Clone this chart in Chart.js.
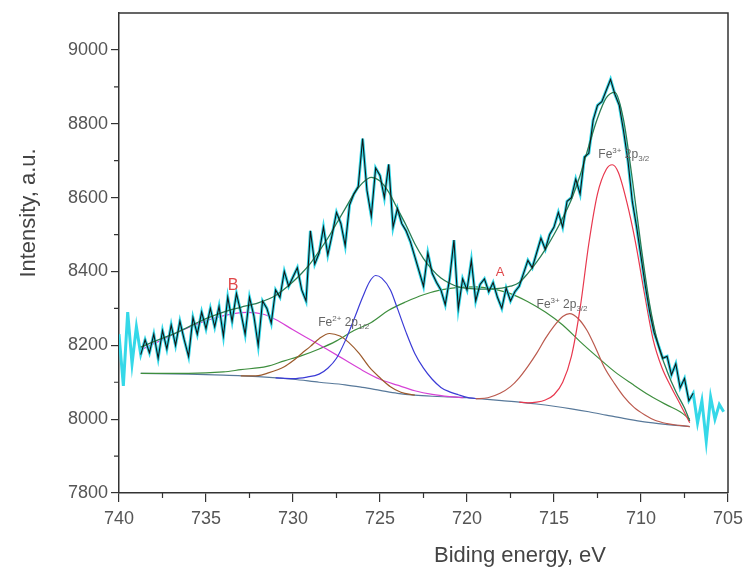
<!DOCTYPE html>
<html>
<head>
<meta charset="utf-8">
<script src="https://cdn.jsdelivr.net/npm/chart.js@4.4.1/dist/chart.umd.min.js"></script>
<style>
  html, body { margin: 0; padding: 0; background: #fff; }
</style>
</head>
<body>
<canvas id="xpsChart" width="743" height="567"></canvas>
<script>
// Fe 2p spectrum, binding energy (eV) on a 0.25 eV grid
const specE = [
  740.00,739.75,739.50,739.25,739.00,738.75,738.50,738.25,
  738.00,737.75,737.50,737.25,737.00,736.75,736.50,736.25,
  736.00,735.75,735.50,735.25,735.00,734.75,734.50,734.25,
  734.00,733.75,733.50,733.25,733.00,732.75,732.50,732.25,
  732.00,731.75,731.50,731.25,731.00,730.75,730.50,730.25,
  730.00,729.75,729.50,729.25,729.00,728.75,728.50,728.25,
  728.00,727.75,727.50,727.25,727.00,726.75,726.50,726.25,
  726.00,725.75,725.50,725.25,725.00,724.75,724.50,724.25,
  724.00,723.75,723.50,723.25,723.00,722.75,722.50,722.25,
  722.00,721.75,721.50,721.25,721.00,720.75,720.50,720.25,
  720.00,719.75,719.50,719.25,719.00,718.75,718.50,718.25,
  718.00,717.75,717.50,717.25,717.00,716.75,716.50,716.25,
  716.00,715.75,715.50,715.25,715.00,714.75,714.50,714.25,
  714.00,713.75,713.50,713.25,713.00,712.75,712.50,712.25,
  712.00,711.75,711.50,711.25,711.00,710.75,710.50,710.25,
  710.00,709.75,709.50,709.25,709.00,708.75,708.50,708.25,
  708.00,707.75,707.50,707.25,707.00,706.75,706.50,706.25,
  706.00,705.75,705.50,705.25
];

// measured intensity (a.u.)
const specI = [
  8230,8090,8290,8150,8250,8175,8215,8180,
  8230,8165,8240,8190,8255,8200,8265,8215,
  8170,8275,8230,8290,8245,8300,8250,8305,
  8225,8330,8265,8340,8290,8230,8330,8280,
  8200,8320,8300,8260,8350,8330,8400,8360,
  8385,8410,8350,8320,8510,8420,8450,8520,
  8445,8500,8560,8530,8470,8580,8610,8630,
  8760,8620,8550,8680,8660,8600,8690,8520,
  8570,8530,8510,8480,8440,8400,8360,8450,
  8395,8370,8350,8310,8380,8485,8300,8380,
  8350,8430,8320,8365,8380,8345,8370,8330,
  8300,8355,8320,8345,8360,8395,8430,8410,
  8450,8490,8460,8500,8520,8560,8520,8590,
  8600,8650,8610,8710,8720,8810,8850,8860,
  8890,8920,8880,8850,8780,8700,8590,8520,
  8440,8360,8290,8235,8200,8165,8170,8120,
  8150,8085,8110,8050,8070,7990,8050,7940,
  8060,8000,8040,8020
];

// fitted region of the spectrum (index range in specE)
const fitStart = 5;
const fitEnd = 133;

// fit components, [energy, intensity]
const envelope = [
  [738.75,8195],[738,8210],[737,8228],[736,8250],[735,8272],[734,8290],[733,8303],
  [732,8315],[731,8335],[730,8372],[729.5,8395],[729,8422],[728.5,8455],[728,8490],
  [727.5,8530],[727,8570],[726.5,8610],[726,8640],[725.5,8655],[725,8645],[724.5,8615],
  [724,8570],[723.5,8525],[723,8475],[722.5,8435],[722,8405],[721.5,8382],[721,8368],
  [720.5,8358],[720,8354],[719,8352],[718,8355],[717.5,8360],[717,8370],[716.5,8395],
  [716,8425],[715.5,8460],[715,8500],[714.5,8545],[714,8595],[713.5,8660],[713,8740],
  [712.5,8815],[712,8870],[711.5,8885],[711,8810],[710.5,8650],[710,8470],[709.5,8310],
  [709,8200],[708.5,8130],[708,8075],[707.5,8030],[707.2,7995]
];

const shirleyBg = [
  [738.75,8124],[736,8122],[734,8119],[732,8115],[730,8108],[728.5,8100],[727,8093],
  [726,8086],[725,8078],[724,8070],[723,8065],[722,8062],[721,8060],[720,8058],
  [719,8054],[718,8050],[717,8046],[716,8041],[715,8035],[714,8028],[713,8020],
  [712,8011],[711,8002],[710,7994],[709,7988],[708,7983],[707.2,7980]
];

const satA = [
  [738.75,8124],[736,8124],[734,8128],[733,8134],[731.5,8143],[730.5,8158],[729.5,8172],
  [728.5,8190],[727.5,8212],[726.5,8240],[725.5,8262],[724.5,8295],[723.5,8318],
  [722.5,8337],[721.5,8350],[720.5,8357],[719.5,8358],[718.5,8352],[717.5,8340],
  [716.5,8318],[715.5,8290],[714.5,8255],[713.5,8210],[712.5,8168],[711.5,8128],
  [710.5,8095],[709.5,8064],[708.5,8038],[707.75,8020],[707.2,8000]
];

const satB = [
  [738.75,8188],[737.5,8215],[736.5,8238],[735.5,8258],[734.5,8274],[733.5,8285],
  [732.6,8289],[731.7,8284],[731,8270],[730,8242],[729,8215],[728,8188],[727,8160],
  [726,8132],[725,8108],[724,8092],[723,8077],[722,8067],[721,8061],[720.2,8058]
];

const fe2p12Small = [
  [733,8117],[732,8118],[731.5,8124],[730.5,8142],[730,8158],[729.5,8178],[729,8197],
  [728.5,8218],[727.9,8232],[727.3,8225],[726.8,8208],[726.2,8178],[725.6,8140],
  [725,8112],[724.4,8088],[723.8,8073],[723,8065]
];

const fe2p12Main = [
  [731,8112],[730,8110],[729.2,8114],[728.5,8122],[728,8138],[727.5,8165],[727,8212],
  [726.5,8270],[726,8330],[725.6,8372],[725.25,8389],[724.9,8382],[724.4,8350],
  [724,8300],[723.5,8235],[723,8178],[722.5,8138],[722,8108],[721.5,8086],[721,8074],
  [720.5,8066],[720,8059],[719.5,8056]
];

const fe2p32Small = [
  [719.5,8055],[718.8,8058],[718.1,8070],[717.5,8088],[717,8112],[716.5,8143],
  [716,8178],[715.5,8218],[715,8252],[714.5,8278],[714.1,8286],[713.6,8272],
  [713.1,8240],[712.6,8192],[712.1,8140],[711.5,8095],[711,8062],[710.4,8032],
  [709.8,8012],[709.2,7997],[708.5,7988],[707.8,7983],[707.2,7980]
];

const fe2p32Main = [
  [717,8046],[716.5,8044],[716,8046],[715.5,8052],[715,8066],[714.5,8100],[714,8170],
  [713.5,8300],[713,8475],[712.5,8610],[712,8676],[711.65,8689],[711.3,8668],
  [710.8,8585],[710.3,8475],[709.8,8340],[709.3,8215],[708.8,8140],[708.3,8090],
  [707.8,8045],[707.2,7990]
];

// peak annotations
const feLabelE = [712.45, 716.0, 728.55];
const feLabelI = [8708, 8300, 8251];
const feLabelIon = ['3+', '3+', '2+'];
const feLabelSub = ['3/2', '3/2', '1/2'];

const letterText = ['B', 'A'];
const letterE = [733.45, 718.1];
const letterI = [8362, 8397];
const letterSize = [16, 13];

const xTitle = 'Biding energy, eV';
const yTitle = 'Intensity, a.u.';

const pairs = arr => arr.map(p => ({ x: p[0], y: p[1] }));
const spectrum = specE.map((e, i) => ({ x: e, y: specI[i] }));

function curve(data, color) {
    return {
        data: pairs(data),
        borderColor: color,
        borderWidth: 1.2,
        pointRadius: 0,
        tension: 0.4,
        cubicInterpolationMode: 'monotone'
    };
}

// frame, minor ticks, axis titles and peak labels
const decorations = {
    id: 'decorations',
    afterDatasetsDraw(chart) {
        const ctx = chart.ctx;
        const xs = chart.scales.x;
        const ys = chart.scales.y;

        ctx.save();
        ctx.fillStyle = '#666';
        feLabelE.forEach((e, i) => {
            let px = xs.getPixelForValue(e);
            const py = ys.getPixelForValue(feLabelI[i]);
            ctx.textBaseline = 'alphabetic';
            ctx.textAlign = 'left';
            ctx.font = '12px "Liberation Sans", Arial, sans-serif';
            ctx.fillText('Fe', px, py);
            px += ctx.measureText('Fe').width;
            ctx.font = '8px "Liberation Sans", Arial, sans-serif';
            ctx.fillText(feLabelIon[i], px, py - 5);
            px += ctx.measureText(feLabelIon[i]).width;
            ctx.font = '12px "Liberation Sans", Arial, sans-serif';
            ctx.fillText(' 2p', px, py);
            px += ctx.measureText(' 2p').width;
            ctx.font = '8px "Liberation Sans", Arial, sans-serif';
            ctx.fillText(feLabelSub[i], px, py + 3);
        });

        ctx.fillStyle = '#e0484a';
        ctx.textAlign = 'center';
        ctx.textBaseline = 'middle';
        letterText.forEach((t, i) => {
            ctx.font = letterSize[i] + 'px "Liberation Sans", Arial, sans-serif';
            ctx.fillText(t, xs.getPixelForValue(letterE[i]), ys.getPixelForValue(letterI[i]));
        });
        ctx.restore();
    },
    afterDraw(chart) {
        const ctx = chart.ctx;
        const a = chart.chartArea;
        const xs = chart.scales.x;
        const ys = chart.scales.y;

        ctx.save();
        ctx.strokeStyle = '#333';
        ctx.lineWidth = 1.5;
        ctx.beginPath();
        ctx.moveTo(a.left, a.top);
        ctx.lineTo(a.right, a.top);
        ctx.lineTo(a.right, a.bottom);
        ctx.stroke();

        // minor ticks halfway between the major ones
        ctx.lineWidth = 1.2;
        ctx.beginPath();
        for (let i = 0; i < xs.ticks.length - 1; i++) {
            const v = (xs.ticks[i].value + xs.ticks[i + 1].value) / 2;
            const p = xs.getPixelForValue(v);
            ctx.moveTo(p, a.bottom);
            ctx.lineTo(p, a.bottom + 5);
        }
        for (let i = 0; i < ys.ticks.length - 1; i++) {
            const v = (ys.ticks[i].value + ys.ticks[i + 1].value) / 2;
            const p = ys.getPixelForValue(v);
            ctx.moveTo(a.left, p);
            ctx.lineTo(a.left - 5, p);
        }
        ctx.stroke();

        // axis titles
        ctx.fillStyle = '#444';
        ctx.font = '22px "Liberation Sans", Arial, sans-serif';
        ctx.textAlign = 'center';
        ctx.textBaseline = 'alphabetic';
        ctx.fillText(xTitle, 520, 562);
        ctx.translate(35, 213);
        ctx.rotate(-Math.PI / 2);
        ctx.fillText(yTitle, 0, 0);
        ctx.restore();
    }
};

new Chart(document.getElementById('xpsChart'), {
    type: 'line',
    data: {
        datasets: [
            {
                data: spectrum.slice(fitStart, fitEnd),
                borderColor: '#141414',
                borderWidth: 1.1,
                pointRadius: 0,
                tension: 0
            },
            {
                data: pairs(envelope),
                borderColor: '#2a7d55',
                borderWidth: 1.3,
                pointRadius: 0,
                tension: 0.4,
                cubicInterpolationMode: 'monotone'
            },
            {
                data: spectrum,
                borderColor: '#35d8e8',
                borderWidth: 3,
                pointRadius: 0,
                tension: 0
            },
            curve(fe2p32Main, '#e8384e'),
            curve(fe2p32Small, '#bb5a4e'),
            curve(fe2p12Main, '#3b3bd6'),
            curve(fe2p12Small, '#9c5a2c'),
            curve(satB, '#d642d6'),
            curve(satA, '#3e8e3e'),
            curve(shirleyBg, '#58799a')
        ]
    },
    options: {
        responsive: false,
        animation: false,
        layout: { padding: { left: 0, top: 13, right: 15, bottom: 0 } },
        plugins: {
            legend: { display: false },
            tooltip: { enabled: false }
        },
        scales: {
            x: {
                type: 'linear',
                reverse: true,
                min: 705,
                max: 740,
                afterFit(scale) {
                    scale.height = 74;
                    scale.paddingLeft = 0;
                    scale.paddingRight = 0;
                },
                border: { display: true, color: '#333', width: 1.5 },
                grid: { drawOnChartArea: false, drawTicks: true, tickLength: 9, color: '#333', lineWidth: 1.2 },
                ticks: {
                    stepSize: 5,
                    padding: 6,
                    color: '#555',
                    font: { family: '"Liberation Sans", Arial, sans-serif', size: 18 },
                    callback: v => String(v)
                }
            },
            y: {
                min: 7800,
                max: 9100,
                afterFit(scale) {
                    scale.width = 119;
                    scale.paddingTop = 0;
                    scale.paddingBottom = 0;
                },
                afterBuildTicks(scale) {
                    scale.ticks = scale.ticks.filter(t => t.value <= 9000);
                },
                border: { display: true, color: '#333', width: 1.5 },
                grid: { drawOnChartArea: false, drawTicks: true, tickLength: 8, color: '#333', lineWidth: 1.2 },
                ticks: {
                    stepSize: 200,
                    padding: 3,
                    color: '#555',
                    font: { family: '"Liberation Sans", Arial, sans-serif', size: 18 },
                    callback: v => String(v)
                }
            }
        }
    },
    plugins: [decorations]
});
</script>
</body>
</html>
